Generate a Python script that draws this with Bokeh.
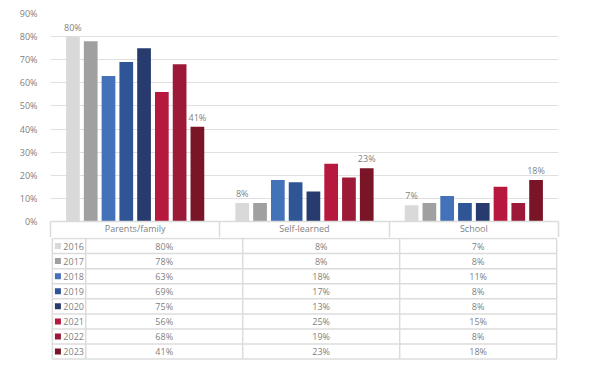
from bokeh.plotting import figure
from bokeh.models import ColumnDataSource, Range1d, FixedTicker, PrintfTickFormatter
from bokeh.transform import dodge
from bokeh.layouts import column
from bokeh.embed import file_html
from bokeh.resources import INLINE
from bokeh.core.properties import value

categories = ["Parents/family", "Self-learned", "School"]
years = ["2016", "2017", "2018", "2019", "2020", "2021", "2022", "2023"]
colors = ["#d9d9d9", "#a0a0a0", "#4472b8", "#2f5597", "#283b6e", "#b7183d", "#9c1a38", "#791526"]
v2016 = [80, 8, 7]
v2017 = [78, 8, 8]
v2018 = [63, 18, 11]
v2019 = [69, 17, 8]
v2020 = [75, 13, 8]
v2021 = [56, 25, 15]
v2022 = [68, 19, 8]
v2023 = [41, 23, 18]
series = [v2016, v2017, v2018, v2019, v2020, v2021, v2022, v2023]
y_ticks = [0, 10, 20, 30, 40, 50, 60, 70, 80, 90]
labelled_years = ["2016", "2023"]

FONT = "Open Sans"
TXT = "#7f7f7f"
BORDER = "#dcdcdc"
FS = "9px"

n = len(years)
step = 0.105
bar_w = 0.081
PX = 169.33  # pixels per category unit

# ---------- chart ----------
p = figure(width=590, height=237, x_range=Range1d(0, len(categories)), y_range=Range1d(0, 90),
           output_backend="svg", toolbar_location=None,
           min_border_left=50, min_border_right=32, min_border_top=13, min_border_bottom=16)
p.outline_line_color = None
p.xgrid.visible = False

xs = [i + 0.5 for i in range(len(categories))]
for k, (yr, vals, col) in enumerate(zip(years, series, colors)):
    src = ColumnDataSource(dict(x=xs, top=vals, label=[f"{v}%" for v in vals]))
    off = (k - (n - 1) / 2) * step
    p.vbar(x=dodge("x", off), top="top", width=bar_w, source=src,
           fill_color=col, line_color=None)
    if yr in labelled_years:
        p.text(x=dodge("x", off), y="top", text="label", source=src,
               text_align="center", text_baseline="bottom", y_offset=-3,
               text_font=value(FONT), text_font_size=FS, text_color=TXT)

p.yaxis.ticker = FixedTicker(ticks=y_ticks)
p.yaxis.formatter = PrintfTickFormatter(format="%d%%")
p.yaxis.axis_line_color = None
p.yaxis.major_tick_line_color = None
p.yaxis.minor_tick_line_color = None
p.yaxis.major_label_standoff = 7
p.ygrid.grid_line_color = "#e0e0e0"
p.ygrid.grid_line_width = 1

p.xaxis.ticker = FixedTicker(ticks=xs, minor_ticks=list(range(len(categories) + 1)))
p.xaxis.major_label_overrides = {x: c for x, c in zip(xs, categories)}
p.xaxis.major_tick_line_color = None
p.xaxis.major_tick_out = 0
p.xaxis.minor_tick_in = 0
p.xaxis.minor_tick_out = 16
p.xaxis.minor_tick_line_color = BORDER
p.xaxis.minor_tick_line_width = 1.5
p.xaxis.axis_line_color = BORDER
p.xaxis.axis_line_width = 1.5
p.xaxis.major_label_standoff = -16

for ax in (p.xaxis, p.yaxis):
    ax.major_label_text_font = FONT
    ax.major_label_text_font_size = FS
    ax.major_label_text_color = TXT

# ---------- table ----------
legend_w = 36 / PX
t = figure(width=590, height=140, x_range=Range1d(-0.2244, 3.0118), y_range=Range1d(-0.224, 8.066),
           output_backend="svg", toolbar_location=None,
           x_axis_location=None, y_axis_location=None,
           min_border_left=12, min_border_right=30, min_border_top=0, min_border_bottom=15)
t.outline_line_color = None
t.grid.visible = False

nrow = len(years)
t.segment(x0=[-legend_w] * (nrow + 1), x1=[len(categories)] * (nrow + 1),
          y0=list(range(nrow + 1)), y1=list(range(nrow + 1)),
          line_color=BORDER, line_width=1.5)
vx = [-legend_w] + list(range(len(categories) + 1))
t.segment(x0=vx, x1=vx, y0=[0] * len(vx), y1=[nrow] * len(vx),
          line_color=BORDER, line_width=1.5)

cx, cy, ct = [], [], []
for r, vals in enumerate(series):
    for i, v in enumerate(vals):
        cx.append(i + 0.5)
        cy.append(nrow - r - 0.5)
        ct.append(f"{v}%")
t.text(x=cx, y=cy, text=ct, text_align="center", text_baseline="middle",
       text_font=value(FONT), text_font_size=FS, text_color=TXT)

ry = [nrow - r - 0.5 for r in range(nrow)]
t.scatter(x=[-legend_w + 6 / PX] * nrow, y=ry, marker="square", size=6,
          fill_color=colors, line_color=None)
t.text(x=[-legend_w] * nrow, y=ry, text=years, x_offset=11,
       text_align="left", text_baseline="middle",
       text_font=value(FONT), text_font_size=FS, text_color=TXT)

layout = column(p, t, spacing=0)
open("out.html", "w").write(file_html(layout, INLINE))
